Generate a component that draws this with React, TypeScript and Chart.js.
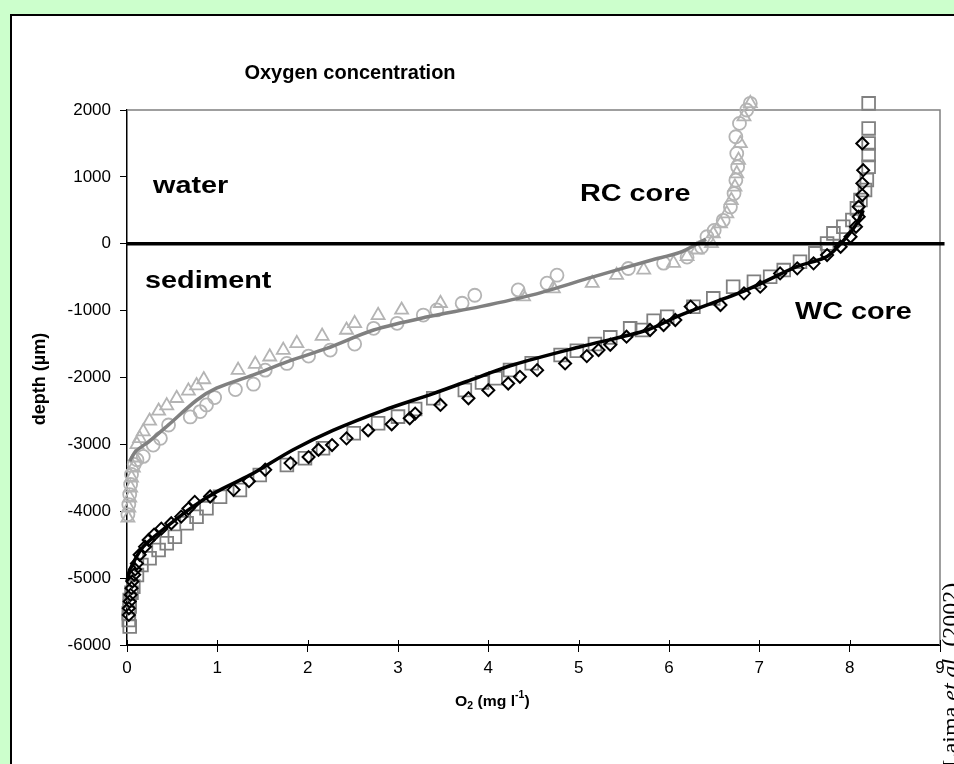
import React, { useEffect, useRef } from 'react';
import { Chart, registerables } from 'chart.js';

Chart.register(...registerables);

// ---------- data (O2 mg/l, depth µm) ----------
const xTickValues = [0, 1, 2, 3, 4, 5, 6, 7, 8, 9];
const yTickValues = [-6000, -5000, -4000, -3000, -2000, -1000, 0, 1000, 2000];

const rcTriangles: [number, number][] = [
  [0.01, -4100], [0.02, -3950], [0.03, -3800], [0.04, -3650], [0.05, -3500], [0.07, -3350],
  [0.09, -3200], [0.11, -3000], [0.14, -2910], [0.18, -2810], [0.25, -2650], [0.35, -2500],
  [0.44, -2420], [0.55, -2310], [0.68, -2200], [0.77, -2120], [0.85, -2030], [1.23, -1890],
  [1.42, -1800], [1.58, -1690], [1.73, -1590], [1.88, -1490], [2.16, -1380], [2.43, -1290],
  [2.52, -1190], [2.78, -1070], [3.04, -990], [3.47, -890], [4.39, -790], [4.72, -670],
  [5.15, -590], [5.42, -470], [5.72, -390], [6.05, -290], [6.2, -190], [6.31, -90],
  [6.47, 5], [6.49, 150], [6.57, 300], [6.64, 450], [6.69, 650], [6.73, 850], [6.75, 1050],
  [6.77, 1250], [6.79, 1500], [6.83, 1900], [6.9, 2100],
];

const rcCircles: [number, number][] = [
  [0.01, -4050], [0.02, -3900], [0.03, -3750], [0.04, -3600], [0.05, -3450], [0.08, -3300],
  [0.11, -3230], [0.18, -3180], [0.29, -3010], [0.37, -2910], [0.46, -2710], [0.7, -2590],
  [0.81, -2510], [0.88, -2410], [0.97, -2300], [1.2, -2180], [1.4, -2100], [1.53, -1890],
  [1.77, -1790], [2.01, -1680], [2.25, -1590], [2.52, -1500], [2.73, -1265], [2.99, -1190],
  [3.28, -1066], [3.43, -990], [3.71, -890], [3.85, -770], [4.33, -690], [4.65, -590],
  [4.76, -470], [5.55, -370], [5.94, -290], [6.2, -200], [6.36, -50], [6.42, 105],
  [6.5, 200], [6.6, 350], [6.68, 550], [6.72, 750], [6.74, 950], [6.76, 1150], [6.75, 1350],
  [6.74, 1600], [6.78, 1800], [6.86, 2000], [6.9, 2100],
];

const rcFit: [number, number][] = [
  [0.03, -3250], [0.1, -3100], [0.25, -2950], [0.45, -2720], [0.77, -2340], [0.99, -2160],
  [1.4, -1960], [1.77, -1765], [2.21, -1565], [2.73, -1290], [3.3, -1100], [3.91, -940],
  [4.5, -760], [5.16, -495], [5.79, -250], [6.12, -130], [6.41, 70],
];

const wcDiamonds: [number, number][] = [
  [0.02, -5550], [0.02, -5450], [0.03, -5350], [0.04, -5250], [0.05, -5150], [0.06, -5050],
  [0.08, -4950], [0.09, -4870], [0.11, -4780], [0.14, -4650], [0.2, -4530], [0.24, -4430],
  [0.3, -4350], [0.38, -4260], [0.49, -4180], [0.6, -4080], [0.68, -3960], [0.75, -3860],
  [0.92, -3780], [1.18, -3680], [1.35, -3550], [1.53, -3380], [1.81, -3280], [2.01, -3190],
  [2.12, -3080], [2.27, -3010], [2.43, -2910], [2.67, -2790], [2.93, -2700], [3.13, -2610],
  [3.19, -2540], [3.47, -2410], [3.78, -2310], [4.0, -2190], [4.22, -2090], [4.35, -1990],
  [4.54, -1890], [4.85, -1790], [5.09, -1680], [5.22, -1590], [5.35, -1510], [5.53, -1390],
  [5.79, -1290], [5.94, -1215], [6.07, -1140], [6.24, -940], [6.57, -916], [6.83, -742],
  [7.01, -642], [7.23, -443], [7.42, -368], [7.6, -293], [7.75, -169], [7.9, -45],
  [8.01, 105], [8.07, 254], [8.1, 404], [8.1, 553], [8.14, 728], [8.14, 903], [8.15, 1100],
  [8.14, 1500],
];

const wcSquares: [number, number][] = [
  [0.03, -5725], [0.02, -5625], [0.02, -5525], [0.03, -5425], [0.03, -5326], [0.05, -5220],
  [0.07, -5127], [0.11, -4952], [0.16, -4803], [0.25, -4703], [0.35, -4579], [0.44, -4479],
  [0.53, -4380], [0.66, -4180], [0.77, -4081], [0.88, -3956], [1.03, -3782], [1.25, -3682],
  [1.47, -3457], [1.77, -3308], [1.97, -3208], [2.17, -3059], [2.51, -2834], [2.78, -2685],
  [3.0, -2585], [3.19, -2470], [3.39, -2311], [3.74, -2187], [3.93, -2075], [4.08, -2012],
  [4.24, -1888], [4.48, -1788], [4.8, -1664], [4.98, -1600], [5.18, -1500], [5.35, -1400],
  [5.57, -1265], [5.7, -1290], [5.83, -1150], [5.98, -1090], [6.27, -941], [6.49, -817],
  [6.71, -642], [6.94, -568], [7.12, -493], [7.27, -394], [7.45, -269], [7.62, -144],
  [7.75, 5], [7.82, 155], [7.93, 254], [8.03, 354], [8.08, 529], [8.12, 653], [8.17, 803],
  [8.19, 952], [8.21, 1151], [8.21, 1326], [8.21, 1500], [8.21, 1725], [8.21, 2099],
];

const wcFit: [number, number][] = [
  [0.0, -5050], [0.03, -4880], [0.18, -4530], [0.44, -4230], [0.73, -3930], [0.99, -3710],
  [1.36, -3460], [1.84, -3080], [2.28, -2790], [2.84, -2490], [3.39, -2240], [3.76, -2060],
  [4.28, -1810], [5.02, -1540], [5.76, -1290], [6.12, -1070], [6.86, -690], [7.42, -340],
  [7.75, -190], [7.97, 105], [8.08, 305], [8.15, 500],
];

const interfaceLine: [number, number][] = [[0, 0], [9.05, 0]];

const titleText = 'Oxygen concentration';
const yTitleText = 'depth (µm)';
const zoneLabels = ['water', 'sediment'];
const coreLabels = ['RC core', 'WC core'];

// ---------- styling ----------
const SANS = "'Liberation Sans', Arial, Helvetica, sans-serif";
const SERIF = "'Liberation Serif', 'Times New Roman', serif";
const LIGHT = '#b4b4b4';
const MID = '#808080';

const toPts = (arr: [number, number][]) => arr.map(([x, y]) => ({ x, y }));

function stretchedText(ctx: CanvasRenderingContext2D, text: string, x: number, y: number,
  font: string, sx: number, align: CanvasTextAlign) {
  ctx.save();
  ctx.font = font;
  ctx.fillStyle = '#000';
  ctx.textBaseline = 'middle';
  ctx.textAlign = align;
  ctx.translate(x, y);
  ctx.scale(sx, 1);
  ctx.fillText(text, 0, 0);
  ctx.restore();
}

const decorPlugin = {
  id: 'decor',
  beforeDatasetsDraw(chart: any) {
    const { ctx, chartArea: a, scales } = chart;
    ctx.save();
    ctx.strokeStyle = MID;
    ctx.lineWidth = 1.5;
    ctx.beginPath();
    ctx.moveTo(a.left, a.top);
    ctx.lineTo(a.right, a.top);
    ctx.lineTo(a.right, a.bottom);
    ctx.stroke();
    ctx.strokeStyle = '#000';
    ctx.lineWidth = 1;
    xTickValues.forEach((v) => {
      const px = Math.round(scales.x.getPixelForValue(v)) + 0.5;
      ctx.beginPath();
      ctx.moveTo(px, a.bottom - 5);
      ctx.lineTo(px, a.bottom);
      ctx.stroke();
    });
    ctx.restore();
  },
  afterDraw(chart: any) {
    const ctx: CanvasRenderingContext2D = chart.ctx;
    stretchedText(ctx, titleText, 350, 73, `bold 20px ${SANS}`, 1.0, 'center');
    stretchedText(ctx, zoneLabels[0], 153, 186, `bold 24px ${SANS}`, 1.2, 'left');
    stretchedText(ctx, zoneLabels[1], 145, 281, `bold 24px ${SANS}`, 1.2, 'left');
    stretchedText(ctx, coreLabels[0], 580, 194, `bold 24px ${SANS}`, 1.2, 'left');
    stretchedText(ctx, coreLabels[1], 795, 312, `bold 24px ${SANS}`, 1.2, 'left');

    ctx.save();
    ctx.fillStyle = '#000';
    ctx.font = `bold 18px ${SANS}`;
    ctx.textAlign = 'center';
    ctx.textBaseline = 'middle';
    ctx.translate(40, 379);
    ctx.rotate(-Math.PI / 2);
    ctx.fillText(yTitleText, 0, 0);
    ctx.restore();

    ctx.save();
    ctx.fillStyle = '#000';
    ctx.textBaseline = 'alphabetic';
    ctx.textAlign = 'left';
    ctx.translate(455, 700);
    ctx.scale(1.05, 1);
    const big = `bold 15px ${SANS}`;
    const small = `bold 10px ${SANS}`;
    const parts: [string, string, number][] = [
      ['O', big, 6], ['2', small, 9], [' (mg l', big, 6], ['-1', small, -2], [')', big, 6],
    ];
    let cx = 0;
    parts.forEach(([t, f, dy]) => {
      ctx.font = f;
      ctx.fillText(t, cx, dy);
      cx += ctx.measureText(t).width;
    });
    ctx.restore();

    ctx.save();
    ctx.fillStyle = '#000';
    ctx.textBaseline = 'alphabetic';
    ctx.textAlign = 'left';
    ctx.translate(958, 768);
    ctx.rotate(-Math.PI / 2);
    const cparts: [string, string][] = [
      ['Laima ', `24px ${SERIF}`], ['et al.', `italic 24px ${SERIF}`], [' (2002)', `24px ${SERIF}`],
    ];
    let c2 = 0;
    cparts.forEach(([t, f]) => {
      ctx.font = f;
      ctx.fillText(t, c2, 0);
      c2 += ctx.measureText(t).width;
    });
    ctx.restore();
  },
};

export default function App() {
  const ref = useRef<HTMLCanvasElement>(null);

  useEffect(() => {
    const canvas = ref.current;
    if (!canvas) return;
    const markerBase = {
      showLine: false,
      clip: false as any,
      backgroundColor: 'rgba(0,0,0,0)',
      borderWidth: 1.8,
    };
    const chart = new Chart(canvas, {
      type: 'scatter',
      data: {
        datasets: [
          {
            label: 'interface', data: toPts(interfaceLine), showLine: true, borderColor: '#000',
            borderWidth: 3.5, pointRadius: 0, clip: false as any, order: 0,
          },
          {
            label: 'RC fit', data: toPts(rcFit), showLine: true, borderColor: MID,
            borderWidth: 3.5, pointRadius: 0, tension: 0.3, clip: false as any, order: 1,
          },
          {
            label: 'WC fit', data: toPts(wcFit), showLine: true, borderColor: '#000',
            borderWidth: 3.5, pointRadius: 0, tension: 0.3, clip: false as any, order: 1,
          },
          {
            ...markerBase, label: 'RC triangles', data: toPts(rcTriangles), pointStyle: 'triangle',
            pointRadius: 7.5, borderColor: LIGHT, order: 4,
          },
          {
            ...markerBase, label: 'RC circles', data: toPts(rcCircles), pointStyle: 'circle',
            pointRadius: 6.5, borderColor: LIGHT, order: 4,
          },
          {
            ...markerBase, label: 'WC squares', data: toPts(wcSquares), pointStyle: 'rect',
            pointRadius: 9, borderColor: MID, order: 3,
          },
          {
            ...markerBase, label: 'WC diamonds', data: toPts(wcDiamonds), pointStyle: 'rectRot',
            pointRadius: 6, borderColor: '#000', borderWidth: 2, order: 2,
          },
        ] as any,
      },
      options: {
        responsive: false,
        animation: false,
        devicePixelRatio: 1,
        layout: { padding: { left: 0, top: 110, right: 14, bottom: 0 } },
        plugins: { legend: { display: false }, tooltip: { enabled: false }, title: { display: false } },
        scales: {
          x: {
            type: 'linear', min: 0, max: 9,
            afterFit: (s: any) => { s.height = 119; },
            afterBuildTicks: (s: any) => { s.ticks = xTickValues.map((v) => ({ value: v })); },
            ticks: {
              callback: (v: any) => String(v), color: '#000', padding: 6,
              font: { family: SANS, size: 17 }, maxRotation: 0,
            },
            grid: { drawOnChartArea: false, drawTicks: true, tickLength: 7, color: '#000', lineWidth: 1 },
            border: { display: true, color: '#000', width: 2 },
          },
          y: {
            type: 'linear', min: -6000, max: 2000,
            afterFit: (s: any) => { s.width = 127; },
            afterBuildTicks: (s: any) => { s.ticks = yTickValues.map((v) => ({ value: v })); },
            ticks: {
              callback: (v: any) => String(v), color: '#000', padding: 9,
              font: { family: SANS, size: 17 },
            },
            grid: { drawOnChartArea: false, drawTicks: true, tickLength: 7, color: '#000', lineWidth: 1 },
            border: { display: true, color: '#000', width: 1.5 },
          },
        },
      } as any,
      plugins: [decorPlugin as any],
    });
    return () => chart.destroy();
  }, []);

  return (
    <div style={{ position: 'fixed', left: 0, top: 0, width: 954, height: 764, overflow: 'hidden', background: '#ccffcc' }}>
      <div style={{ position: 'absolute', left: 10, top: 14, width: 1000, height: 800, background: '#fff', border: '2px solid #000' }} />
      <canvas ref={ref} width={954} height={764} style={{ position: 'absolute', left: 0, top: 0 }} />
    </div>
  );
}
